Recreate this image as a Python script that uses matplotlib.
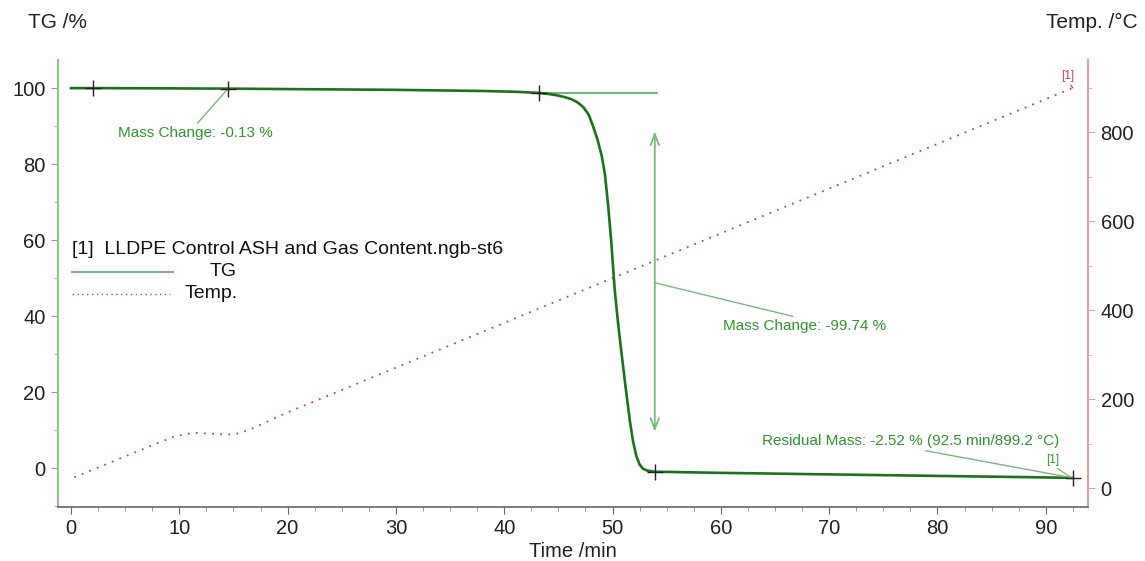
import matplotlib
matplotlib.use("Agg")
import matplotlib.pyplot as plt
from matplotlib.lines import Line2D
from matplotlib.ticker import MultipleLocator

plt.rcParams['font.family'] = ['Liberation Sans', 'DejaVu Sans']

# ---- data ----
tg_time = [0.0, 2.0, 8.0, 14.5, 20.0, 30.0, 38.0, 41.0, 43.2, 44.0, 44.8, 45.5, 46.2,
           46.8, 47.3, 47.8, 48.2, 48.6, 49.0, 49.3, 49.6, 49.9, 50.2, 50.5, 50.8,
           51.2, 51.6, 51.9, 52.2, 52.5, 52.8, 53.2, 53.9, 60.0, 70.0, 80.0, 90.0, 92.5]
tg_mass = [100.0, 100.0, 99.95, 99.87, 99.75, 99.55, 99.25, 99.05, 98.75, 98.5, 98.15,
           97.7, 97.1, 96.2, 95.0, 93.0, 90.0, 86.6, 82.2, 77.3, 69.0, 59.0, 47.0,
           38.5, 31.0, 21.5, 12.5, 7.0, 3.2, 1.0, -0.1, -0.6, -0.9, -1.2, -1.6, -2.0,
           -2.4, -2.52]

temp_time = [0.3, 2.0, 5.0, 8.0, 9.5, 10.5, 11.5, 13.0, 14.5, 15.5, 16.5, 18.0, 20.0, 92.5]
temp_val = [24.0, 41.0, 71.0, 101.0, 115.0, 121.0, 124.0, 122.0, 120.0, 123.0, 131.0,
            148.0, 170.0, 899.2]

marker_time = [2.0, 14.5, 43.2, 53.9, 92.5]
marker_mass = [100.0, 99.87, 98.75, -0.9, -2.52]

onset_time = [43.2, 54.1]
onset_mass = [98.75, 98.75]

step_time = 53.9
step_top = 88.6
step_bottom = 9.6

x_ticks = [0, 10, 20, 30, 40, 50, 60, 70, 80, 90]
tg_ticks = [0, 20, 40, 60, 80, 100]
temp_ticks = [0, 200, 400, 600, 800]

legend_title = "[1]  LLDPE Control ASH and Gas Content.ngb-st6"
label_mc1 = "Mass Change: -0.13 %"
label_mc2 = "Mass Change: -99.74 %"
label_res = "Residual Mass: -2.52 % (92.5 min/899.2 \u00b0C)"

# ---- styles ----
tg_color = "#1c721c"
ann_color = "#2e962e"
light_green = "#78b878"
spine_green = "#8cc88c"
temp_color = "#c0405a"
spine_red = "#d9a3a3"

fig = plt.figure(figsize=(11.45, 5.61), dpi=100)
ax = fig.add_axes([58/1145, 1-506.7/561, (1088-58)/1145, (506.7-60)/561])
ax2 = ax.twinx()

ax.set_xlim(-1.2, 93.9)
ax.set_ylim(-10.1, 107.4)
ax2.set_ylim(-42, 962)

# temperature curve (behind TG)
ax2.plot(temp_time, temp_val, color=temp_color, lw=1.3, linestyle=(0, (1, 3.5)))
ax.set_zorder(ax2.get_zorder() + 1)
ax.patch.set_visible(False)

# TG curve
ax.plot(onset_time, onset_mass, color=light_green, lw=1.5)
ax.plot(tg_time, tg_mass, color=tg_color, lw=1.9)
ax.plot(marker_time, marker_mass, linestyle='none', marker='+', color='#222222',
        markersize=11, markeredgewidth=1.0, zorder=5)

# step arrow
ax.annotate("", xy=(step_time, step_bottom), xytext=(step_time, step_top),
            arrowprops=dict(arrowstyle='<->,head_length=0.8,head_width=0.3',
                            color=light_green, lw=1.3, shrinkA=0, shrinkB=0))

# annotations
fs_ann = 11
ax.annotate(label_mc1, xy=(marker_time[1], marker_mass[1]), xytext=(11.45, 88.2),
            ha='center', va='center', color=ann_color, fontsize=fs_ann,
            arrowprops=dict(arrowstyle='-', color=light_green, lw=1.0,
                            shrinkA=0, shrinkB=0, relpos=(0.5, 1.0)))
ax.annotate(label_mc2, xy=(step_time, 48.8), xytext=(67.7, 37.4),
            ha='center', va='center', color=ann_color, fontsize=fs_ann,
            arrowprops=dict(arrowstyle='-', color=light_green, lw=1.0,
                            shrinkA=0, shrinkB=0, relpos=(0.5, 1.0)))
ax.annotate(label_res, xy=(marker_time[4], marker_mass[4]), xytext=(77.5, 7.2),
            ha='center', va='center', color=ann_color, fontsize=fs_ann,
            arrowprops=dict(arrowstyle='-', color=light_green, lw=1.0,
                            shrinkA=0, shrinkB=0, relpos=(0.5, 0.0)))
ax.annotate("[1]", xy=(marker_time[4] - 0.3, marker_mass[4] + 0.3), xytext=(90.6, 2.3),
            ha='center', va='center', color=ann_color, fontsize=8.5,
            arrowprops=dict(arrowstyle='-', color=light_green, lw=0.9,
                            shrinkA=0, shrinkB=0, relpos=(0.6, 0.0)))
ax2.annotate("[1]", xy=(temp_time[-1], temp_val[-1]), xytext=(92.0, 925),
             ha='center', va='center', color=temp_color, fontsize=8.5,
             arrowprops=dict(arrowstyle='-', color=temp_color, lw=0.9,
                             shrinkA=0, shrinkB=0, relpos=(0.6, 0.0)))

# manual legend
ax.text(72/1145, 1-250/561, legend_title, transform=fig.transFigure,
        ha='left', va='center', fontsize=14, color='#111111')
fig.add_artist(Line2D([72/1145, 173/1145], [1-271.7/561]*2, transform=fig.transFigure,
                      color=light_green, lw=1.5))
ax.text(223/1145, 1-271.5/561, "TG", transform=fig.transFigure,
        ha='center', va='center', fontsize=14, color='#111111')
fig.add_artist(Line2D([72/1145, 170/1145], [1-294/561]*2, transform=fig.transFigure,
                      color=temp_color, lw=1.0, linestyle=(0, (1, 2.5))))
ax.text(185/1145, 1-294/561, "Temp.", transform=fig.transFigure,
        ha='left', va='center', fontsize=14, color='#111111')

# axes styling
ax.set_xticks(x_ticks)
ax.set_yticks(tg_ticks)
ax2.set_yticks(temp_ticks)
ax.xaxis.set_minor_locator(MultipleLocator(2.5))
ax.yaxis.set_minor_locator(MultipleLocator(10))
ax2.yaxis.set_minor_locator(MultipleLocator(100))

for a in (ax, ax2):
    a.spines['top'].set_visible(False)
ax.spines['right'].set_visible(False)
ax2.spines['left'].set_visible(False)
ax2.spines['bottom'].set_visible(False)
ax.spines['left'].set_color(spine_green)
ax.spines['left'].set_linewidth(1.5)
ax2.spines['right'].set_color(spine_red)
ax2.spines['right'].set_linewidth(1.5)
ax.spines['bottom'].set_color('#666666')
ax.spines['bottom'].set_linewidth(1.2)

fs_tick = 14.5
ax.tick_params(axis='x', which='major', length=5, color='#666666', labelsize=fs_tick,
               labelcolor='#222222', pad=4)
ax.tick_params(axis='x', which='minor', length=3, color='#888888')
ax.tick_params(axis='y', which='major', length=5, color='#999999', labelsize=fs_tick,
               labelcolor='#222222', pad=4)
ax.tick_params(axis='y', which='minor', length=3, color='#999999')
ax2.tick_params(axis='y', which='major', length=5, color=spine_red, labelsize=fs_tick,
                labelcolor='#222222', pad=4)
ax2.tick_params(axis='y', which='minor', length=3, color=spine_red)

ax.set_xlabel("Time /min", fontsize=14.5, color='#222222', labelpad=3)
fig.text(28/1145, 1-22/561, "TG /%", ha='left', va='center', fontsize=15, color='#222222')
fig.text(1138/1145, 1-22/561, "Temp. /\u00b0C", ha='right', va='center', fontsize=15,
         color='#222222')

fig.savefig("out.png", dpi=100)
